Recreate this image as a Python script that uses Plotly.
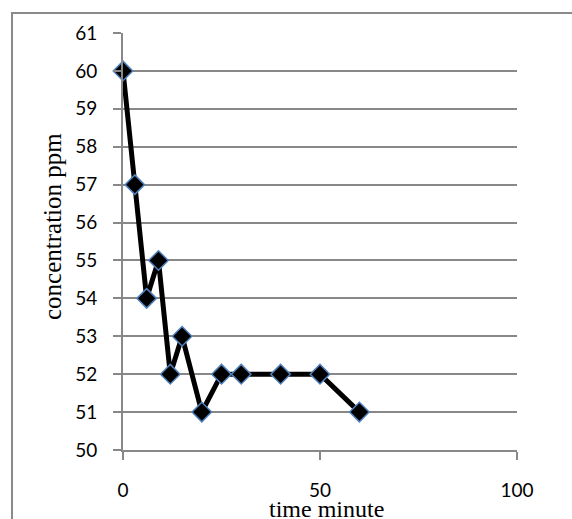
import plotly.graph_objects as go

time_min = [0, 3, 6, 9, 12, 15, 20, 25, 30, 40, 50, 60]
conc_ppm = [60, 57, 54, 55, 52, 53, 51, 52, 52, 52, 52, 51]
x_ticks = [0, 50, 100]
y_ticks = list(range(50, 62))
x_title = "time minute"
y_title = "concentration ppm"

W, H = 572, 519
L, R, T, B = 123, 55, 33, 69
pw, ph = W - L - R, H - T - B

fig = go.Figure()
fig.add_trace(go.Scatter(
    x=time_min, y=conc_ppm, mode="lines+markers",
    line=dict(color="black", width=5),
    marker=dict(symbol="diamond", size=15, color="black",
                line=dict(color="#4f81bd", width=1.5)),
    cliponaxis=False, showlegend=False))

grid = "#888888"
fig.update_layout(
    width=W, height=H, margin=dict(l=L, r=R, t=T, b=B),
    paper_bgcolor="white", plot_bgcolor="white",
    font=dict(family="Lato", size=19, color="black"),
    xaxis=dict(range=[0, 100], tickvals=x_ticks, showgrid=False, zeroline=False,
               showline=True, linecolor=grid, linewidth=2, automargin=False,
               ticks="outside", ticklen=8, tickwidth=2, tickcolor=grid,
               ticklabelstandoff=14),
    yaxis=dict(range=[50, 61], tickvals=y_ticks, showgrid=True, gridcolor=grid,
               gridwidth=2, zeroline=False, automargin=False,
               showline=True, linecolor=grid, linewidth=2,
               ticks="outside", ticklen=8, tickwidth=2, tickcolor=grid,
               ticklabelstandoff=12),
)
fig.add_annotation(text=y_title, xref="paper", yref="paper",
                   x=(52 - L) / pw, y=(H - B - 227) / ph, textangle=-90,
                   xanchor="center", yanchor="middle", showarrow=False,
                   font=dict(family="Liberation Serif", size=25, color="black"))
fig.add_annotation(text=x_title, xref="paper", yref="paper",
                   x=(326 - L) / pw, y=(H - B - 494) / ph,
                   xanchor="center", yanchor="top", showarrow=False,
                   font=dict(family="Liberation Serif", size=24, color="black"))
# outer chart border
fig.add_shape(type="rect", xref="paper", yref="paper",
              x0=(12 - L) / pw, x1=(W + 10 - L) / pw,
              y0=-(H + 10 - T - ph) / ph, y1=(H - B - 13) / ph,
              line=dict(color="#8a8a8a", width=2), layer="below")
fig.write_html("out.html")
